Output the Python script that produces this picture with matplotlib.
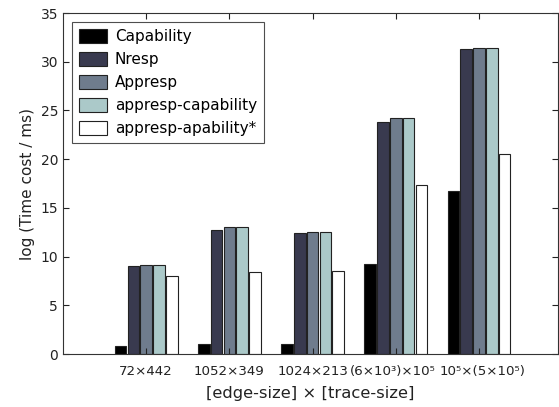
import matplotlib
matplotlib.use("Agg")
import matplotlib.pyplot as plt
import matplotlib.transforms as mtransforms
import numpy as np

categories = ["72×442", "1052×349", "1024×213", "(6×10³)×10⁵", "10⁵×(5×10⁵)"]
series_names = ["Capability", "Nresp", "Appresp", "appresp-capability", "appresp-apability*"]
capability = [0.85, 1.05, 1.0, 9.2, 16.7]
nresp = [9.0, 12.7, 12.4, 23.8, 31.3]
appresp = [9.15, 13.0, 12.5, 24.2, 31.45]
appresp_capability = [9.15, 13.0, 12.5, 24.2, 31.45]
appresp_apability_star = [8.0, 8.4, 8.5, 17.3, 20.5]
colors = ["#000000", "#393a4f", "#6f7c8d", "#abc9c9", "#ffffff"]

values = [capability, nresp, appresp, appresp_capability, appresp_apability_star]

fig = plt.figure(figsize=(5.59, 4.07), dpi=100)
ax = fig.add_axes([63/559, 1-354/407, (558-63)/559, (354-13)/407])

x = np.arange(1, len(categories) + 1)
step = 0.154
width = 0.138
for i, (name, vals, c) in enumerate(zip(series_names, values, colors)):
    ax.bar(x + (i - 2) * step, vals, width=width, color=c, edgecolor="#222222",
           linewidth=0.8, label=name)

ax.set_xlim(0, 5.95)
ax.set_ylim(0, 35)
ax.set_xticks(x)
ax.set_xticklabels(categories, fontsize=9.6)
ax.set_yticks(np.arange(0, 36, 5))
ax.tick_params(axis="y", labelsize=10, colors="#222222", direction="in", right=True, length=4)
ax.tick_params(axis="x", direction="in", top=True, length=4, colors="#222222", pad=8)
for s in ax.spines.values():
    s.set_color("#333333")
    s.set_linewidth(0.8)

# nudge the two long labels apart slightly, as in the reference
labs = ax.get_xticklabels()
for lab, dx in zip(labs, [0, 0, 0, -3, 4]):
    if dx:
        lab.set_transform(lab.get_transform() +
                          mtransforms.ScaledTranslation(dx / 100, 0, fig.dpi_scale_trans))

ax.set_xlabel("[edge-size] × [trace-size]", fontsize=11.8, color="#222222", labelpad=6)
ax.set_ylabel("log (Time cost / ms)", fontsize=11, color="#222222")

leg = ax.legend(loc="upper left", fontsize=11, frameon=True, fancybox=False,
                edgecolor="#222222", handlelength=1.85, handleheight=1.05,
                borderaxespad=0.6, labelspacing=0.5, handletextpad=0.5,
                borderpad=0.45)
leg.get_frame().set_linewidth(0.8)

fig.savefig("out.png", dpi=100)
